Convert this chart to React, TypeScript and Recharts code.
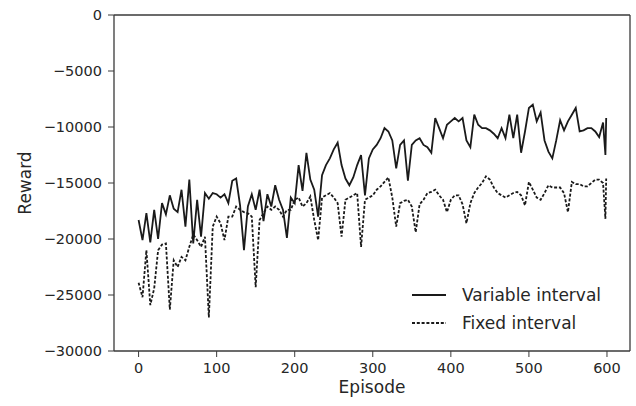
import React from 'react';
import {
    LineChart,
    Line,
    XAxis,
    YAxis,
    ReferenceLine,
} from 'recharts';

// episode index (every 5 episodes, plus the last two)
const episodes = [
    0, 5, 10, 15, 20, 25, 30, 35, 40, 45, 50, 55, 60, 65, 70, 75, 80, 85, 90, 95,
    100, 105, 110, 115, 120, 125, 130, 135, 140, 145, 150, 155, 160, 165, 170, 175, 180, 185, 190, 195,
    200, 205, 210, 215, 220, 225, 230, 235, 240, 245, 250, 255, 260, 265, 270, 275, 280, 285, 290, 295,
    300, 305, 310, 315, 320, 325, 330, 335, 340, 345, 350, 355, 360, 365, 370, 375, 380, 385, 390, 395,
    400, 405, 410, 415, 420, 425, 430, 435, 440, 445, 450, 455, 460, 465, 470, 475, 480, 485, 490, 495,
    500, 505, 510, 515, 520, 525, 530, 535, 540, 545, 550, 555, 560, 565, 570, 575, 580, 585, 590, 595,
    598, 599,
];

const variableInterval = [
    -18300, -20100, -17700, -20300, -17400, -20000, -16800, -17800, -16100, -17300,
    -17600, -15600, -18900, -14700, -20400, -16500, -19800, -15900, -16400, -15900,
    -16000, -16300, -16000, -16800, -14800, -14600, -17000, -21000, -17100, -16000,
    -17400, -15600, -18400, -16000, -17100, -15200, -16500, -17400, -19900, -16300,
    -16800, -13400, -15700, -12300, -14700, -15600, -18000, -14300, -13400, -12800,
    -12000, -11400, -13400, -14600, -15200, -14500, -13400, -12500, -16100, -12800,
    -12000, -11600, -11000, -10100, -10400, -11200, -13700, -11600, -11200, -14800,
    -11600, -11200, -11000, -11600, -11800, -12300, -9200, -10100, -11000, -9800,
    -9500, -9200, -9500, -9200, -11200, -11800, -8900, -9800, -10100, -10100,
    -10300, -10600, -11000, -10100, -11000, -8900, -11000, -8900, -12300, -10400,
    -8300, -8000, -9500, -8700, -11200, -12200, -12800, -11200, -9400, -10300,
    -9500, -8900, -8300, -10400, -10300, -10100, -10100, -10400, -10900, -9600,
    -12500, -9200,
];

const fixedInterval = [
    -23900, -25200, -21000, -25900, -24400, -21000, -20500, -20400, -26300, -21900,
    -22500, -21600, -21900, -20700, -19600, -20100, -20700, -19800, -27000, -18900,
    -18000, -18600, -20100, -18000, -18000, -17100, -17400, -17600, -17700, -18000,
    -24300, -18300, -17700, -17100, -17400, -17100, -17400, -18000, -17400, -17400,
    -16500, -16300, -17100, -16800, -16200, -18300, -20100, -16300, -16100, -15900,
    -16300, -16800, -19800, -16500, -16300, -16100, -15900, -20700, -16500, -16300,
    -16100, -15600, -15300, -14900, -14500, -16300, -18900, -16800, -16600, -16500,
    -17100, -19400, -16900, -16500, -15900, -15800, -15600, -16100, -16500, -17600,
    -16500, -16100, -16100, -16900, -18600, -16800, -15900, -15400, -15000, -14400,
    -14700, -15400, -15900, -16100, -16300, -16100, -15900, -15800, -16100, -17000,
    -14900, -15600, -16300, -16500, -15900, -15200, -15400, -15400, -15400, -15900,
    -17600, -14900, -15100, -15100, -15300, -15300, -15000, -14700, -14700, -15000,
    -18200, -14600,
];

const xTicks = [0, 100, 200, 300, 400, 500, 600];
const yTicks = [0, -5000, -10000, -15000, -20000, -25000, -30000];

const X_MIN = -31.5;
const X_MAX = 629.5;

const data = episodes.map((ep, i) => ({
    episode: ep,
    variable: variableInterval[i],
    fixed: fixedInterval[i],
}));

const FONT = '"DejaVu Sans", Verdana, sans-serif';
const INK = '#262626';
const SPINE = '#3a3a3a';
const LINE = '#1a1a1a';
const DASH = '3 1.8';

const fmtY = (v: number) => (v < 0 ? `\u2212${Math.abs(v)}` : `${v}`);

function LegendBox() {
    return (
        <div style={{ position: 'absolute', left: 412, top: 281, fontFamily: FONT, fontSize: 17, color: INK }}>
            <div style={{ display: 'flex', alignItems: 'center', height: 28 }}>
                <svg width={34} height={4} style={{ marginRight: 16 }}>
                    <line x1={0} y1={2} x2={34} y2={2} stroke={LINE} strokeWidth={1.8} />
                </svg>
                <span>Variable interval</span>
            </div>
            <div style={{ display: 'flex', alignItems: 'center', height: 28 }}>
                <svg width={34} height={4} style={{ marginRight: 16 }}>
                    <line x1={0} y1={2} x2={34} y2={2} stroke={LINE} strokeWidth={1.8} strokeDasharray={DASH} />
                </svg>
                <span>Fixed interval</span>
            </div>
        </div>
    );
}

export default function App() {
    return (
        <div style={{ position: 'absolute', left: 0, top: 0, width: 636, height: 406, background: '#fff' }}>
            <LineChart
                width={636}
                height={406}
                data={data}
                margin={{ top: 15, right: 6, left: 0, bottom: 0 }}
            >
                <XAxis
                    dataKey="episode"
                    type="number"
                    domain={[X_MIN, X_MAX]}
                    ticks={xTicks}
                    allowDataOverflow
                    height={55}
                    tickSize={6}
                    tickMargin={6}
                    stroke={SPINE}
                    tick={{ fill: INK, fontSize: 14.5, fontFamily: FONT }}
                    axisLine={{ stroke: SPINE, strokeWidth: 1.3 }}
                />
                <YAxis
                    type="number"
                    domain={[-30000, 0]}
                    ticks={yTicks}
                    width={114}
                    tickSize={6}
                    tickMargin={6}
                    tickFormatter={fmtY}
                    stroke={SPINE}
                    tick={{ fill: INK, fontSize: 14.5, fontFamily: FONT }}
                    axisLine={{ stroke: SPINE, strokeWidth: 1.3 }}
                />
                <ReferenceLine y={0} stroke={SPINE} strokeWidth={1.3} />
                <ReferenceLine x={X_MAX} stroke={SPINE} strokeWidth={1.3} />
                <Line
                    type="linear"
                    dataKey="fixed"
                    stroke={LINE}
                    strokeWidth={1.8}
                    strokeDasharray={DASH}
                    dot={false}
                    isAnimationActive={false}
                />
                <Line
                    type="linear"
                    dataKey="variable"
                    stroke={LINE}
                    strokeWidth={1.8}
                    dot={false}
                    isAnimationActive={false}
                />
            </LineChart>
            <div
                style={{
                    position: 'absolute',
                    left: 25,
                    top: 183,
                    transform: 'translate(-50%, -50%) rotate(-90deg)',
                    fontFamily: FONT,
                    fontSize: 17,
                    color: INK,
                    whiteSpace: 'nowrap',
                }}
            >
                Reward
            </div>
            <div
                style={{
                    position: 'absolute',
                    left: 372,
                    top: 387,
                    transform: 'translate(-50%, -50%)',
                    fontFamily: FONT,
                    fontSize: 17,
                    color: INK,
                    whiteSpace: 'nowrap',
                }}
            >
                Episode
            </div>
            <LegendBox />
        </div>
    );
}
